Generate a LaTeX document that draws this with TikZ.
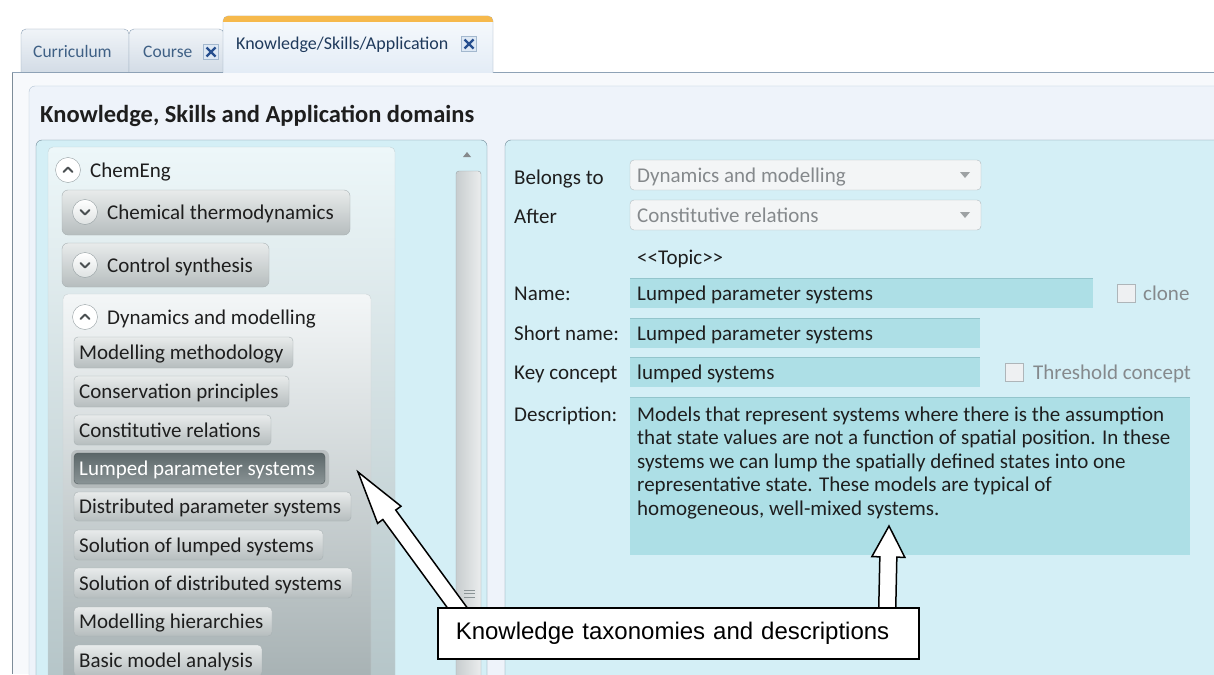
\documentclass[tikz,border=0pt]{standalone}
\usepackage{fontspec}
\setmainfont{Carlito}
\newfontfamily\calloutfont{Liberation Sans}
\usetikzlibrary{calc}

\definecolor{tabedge}{HTML}{8EA2B6}
\definecolor{tabtop}{HTML}{F0F4F8}
\definecolor{tabbot}{HTML}{D3DCE6}
\definecolor{tabtext}{HTML}{3F6085}
\definecolor{acttext}{HTML}{1F3A5C}
\definecolor{acttop}{HTML}{F7FAFD}
\definecolor{actbot}{HTML}{E3ECF6}
\definecolor{orangebar}{HTML}{F6B94C}
\definecolor{xblue}{HTML}{264E8E}
\definecolor{xboxfill}{HTML}{DDE8F4}
\definecolor{xboxedge}{HTML}{A3B8CE}
\definecolor{framegray}{HTML}{7D8C99}
\definecolor{outerbg}{HTML}{F7F9FC}
\definecolor{contentbg}{HTML}{EEF3FA}
\definecolor{contentedge}{HTML}{B4C4D4}
\definecolor{paneledge}{HTML}{6E8795}
\definecolor{panelcyan}{HTML}{D4EFF6}
\definecolor{treetop}{HTML}{EDF7F9}
\definecolor{treebot}{HTML}{B3C3C6}
\definecolor{treeedge}{HTML}{C3D3D7}
\definecolor{grouptop}{HTML}{F3F6F7}
\definecolor{groupbot}{HTML}{A3AEB0}
\definecolor{groupedge}{HTML}{CBD3D5}
\definecolor{btntop}{HTML}{E8EBEB}
\definecolor{btnbot}{HTML}{B6BDBE}
\definecolor{btnedge}{HTML}{A8B1B3}
\definecolor{seltop}{HTML}{5C6769}
\definecolor{selbot}{HTML}{8A9496}
\definecolor{seledge}{HTML}{4E585A}
\definecolor{fieldteal}{HTML}{ADDFE6}
\definecolor{fieldedge}{HTML}{93C5CC}
\definecolor{combofill}{HTML}{F3F5F6}
\definecolor{comboedge}{HTML}{B2B9BD}
\definecolor{graytext}{HTML}{85898C}
\definecolor{darktext}{HTML}{1E1E1E}
\definecolor{chkfill}{HTML}{EEF0F2}
\definecolor{chkedge}{HTML}{AEB5B9}
\definecolor{chevgray}{HTML}{4A4F51}
\definecolor{circedge}{HTML}{949EA1}
\definecolor{thumbedge}{HTML}{9AA4A7}

\tikzset{
  ui/.style={font=\fontsize{21}{25}\selectfont, text=darktext, inner sep=0pt, anchor=base west},
  uigray/.style={ui, text=graytext},
  tabtxt/.style={font=\fontsize{17.5}{21}\selectfont, text=tabtext, inner sep=0pt, anchor=base west},
  tabshape/.style={draw=tabedge, top color=tabtop, bottom color=tabbot, rounded corners=5},
  acttab/.style={draw=tabedge, top color=acttop, bottom color=actbot, rounded corners=5},
  xbox/.style={draw=xboxedge, fill=xboxfill, minimum size=15pt, inner sep=0pt},
  xmark/.style={xblue, line width=2.3pt},
  panel/.style={draw=paneledge, fill=panelcyan, rounded corners=6},
  treebox/.style={draw=treeedge, top color=treetop, bottom color=treebot, rounded corners=5},
  groupbox/.style={draw=groupedge, top color=grouptop, bottom color=groupbot, rounded corners=5},
  btnshape/.style={draw=btnedge, top color=btntop, bottom color=btnbot, rounded corners=4},
  selshape/.style={draw=seledge, top color=seltop, bottom color=selbot, rounded corners=4},
  expander/.style={circle, draw=circedge, minimum size=25pt, inner sep=0pt, top color=white, bottom color=btntop!80!btnbot},
  chev/.style={chevgray, line width=2.1pt, line cap=round, line join=round},
  combo/.style={draw=comboedge, fill=combofill, rounded corners=4},
  field/.style={fill=fieldteal},
  chkbox/.style={draw=chkedge, fill=chkfill, minimum size=18pt, inner sep=0pt},
  calloutbox/.style={draw=black, line width=1.5pt, fill=white, anchor=north west,
     minimum height=51pt, text width=445pt, inner xsep=18pt, inner ysep=0pt, align=left,
     font=\calloutfont\fontsize{24}{28}\selectfont},
  hollow/.style={draw=black, line width=1.5pt, fill=white, line join=miter},
}

\newcommand{\chevronup}[1]{\draw[chev] ($(#1)+(-4.5,2)$) -- ($(#1)+(0,-2.5)$) -- ($(#1)+(4.5,2)$);}
\newcommand{\chevrondown}[1]{\draw[chev] ($(#1)+(-4.5,-2)$) -- ($(#1)+(0,2.5)$) -- ($(#1)+(4.5,-2)$);}
% name, right x, top y, bottom y, text, shape style, text style
\newcommand{\treeitem}[7]{%
  \path[#6] (74,#3) rectangle (#2,#4);
  \node[#7] (#1) at (79,{(#3+#4)/2+7}) {#5};}
% tail, tip, head length, head half width, shaft half width
\newcommand{\hollowarrow}[5]{%
  \path[hollow] (#2)
    -- ($(#2)!#3!(#1)!#4!90:(#2)$)
    -- ($(#2)!#3!(#1)!#5!90:(#2)$)
    -- ($(#1)!#5!90:(#2)$)
    -- ($(#1)!#5!-90:(#2)$)
    -- ($(#2)!#3!(#1)!#5!-90:(#2)$)
    -- ($(#2)!#3!(#1)!#4!-90:(#2)$)
    -- cycle;}

\begin{document}
\begin{tikzpicture}[x=1pt,y=-1pt]
\useasboundingbox (0,0) rectangle (1214,674);
\clip (0,0) rectangle (1214,674);
\fill[white] (0,0) rectangle (1214,674);

% ---------- window frame ----------
\fill[outerbg] (12,72) rectangle (1214,674);
\draw[framegray] (12,72) -- (12,674);
\draw[tabedge] (12,72) -- (1214,72);
\path[draw=contentedge, fill=contentbg, rounded corners=6] (29,86) rectangle (1240,700);

% ---------- tabs ----------
\path[tabshape] (21,72) -- (21,29) -- (129,29) -- (129,72);
\path[tabshape] (129,72) -- (129,29) -- (224,29) -- (224,72);
\path[acttab] (223,73) -- (223,16) -- (493,16) -- (493,73);
\begin{scope}
  \clip[rounded corners=5] (223,73) -- (223,16) -- (493,16) -- (493,73) -- cycle;
  \fill[orangebar] (218,10) rectangle (498,22);
\end{scope}
\node[tabtxt] (tabcur) at (33,58) {Curriculum};
\node[tabtxt] (tabcou) at (143,58) {Course};
\node[xbox] (xcou) at (211,52) {};
\draw[xmark] ($(xcou.center)+(-4.5,-4.5)$) -- ($(xcou.center)+(4.5,4.5)$);
\draw[xmark] ($(xcou.center)+(-4.5,4.5)$) -- ($(xcou.center)+(4.5,-4.5)$);
\node[tabtxt, text=acttext, font=\fontsize{18}{21}\selectfont] (tabksa) at (236,50) {Knowledge/Skills/Application};
\node[xbox] (xksa) at (469,44) {};
\draw[xmark] ($(xksa.center)+(-4.5,-4.5)$) -- ($(xksa.center)+(4.5,4.5)$);
\draw[xmark] ($(xksa.center)+(-4.5,4.5)$) -- ($(xksa.center)+(4.5,-4.5)$);

% ---------- title ----------
\node[font=\fontsize{24.5}{29}\selectfont\bfseries, text=darktext, inner sep=0pt, anchor=base west] (title) at (40,122) {Knowledge, Skills and Application domains};

% ---------- left panel ----------
\path[panel] (36,140) rectangle (487,700);
\path[treebox] (48,147) rectangle (395,700);
% scrollbar
\fill[graytext] (463,157) -- (471,157) -- (467,152) -- cycle;
\path[draw=thumbedge, left color=thumbedge!55, right color=white!80!thumbedge, rounded corners=3] (456,171) rectangle (481,700);
\foreach \gy in {590,593.5,597} \draw[thumbedge!90!black] (464,\gy) -- (475,\gy);

% tree
\node[expander, top color=white, bottom color=white] (exchem) at (68,170) {};
\chevronup{exchem}
\node[ui] (chemeng) at (90,177) {ChemEng};

\path[btnshape, rounded corners=6] (62,190) rectangle (350,235);
\node[expander] (exthermo) at (85,212) {};
\chevrondown{exthermo}
\node[ui] (thermo) at (107,219) {Chemical thermodynamics};

\path[btnshape, rounded corners=6] (62,243) rectangle (269,287);
\node[expander] (excontrol) at (85,265) {};
\chevrondown{excontrol}
\node[ui] (control) at (107,272) {Control synthesis};

\path[groupbox] (63,294) rectangle (371,700);
\node[expander, top color=white, bottom color=white] (exdyn) at (85,317) {};
\chevronup{exdyn}
\node[ui] (dynamics) at (107,324) {Dynamics and modelling};

\treeitem{itmeth}{293}{337}{368}{Modelling methodology}{btnshape}{ui}
\treeitem{itcons}{289}{376}{407}{Conservation principles}{btnshape}{ui}
\treeitem{itconst}{271}{415}{445}{Constitutive relations}{btnshape}{ui}
\fill[black, opacity=0.12, rounded corners=6] (71,450) rectangle (329,488);
\treeitem{itlump}{325}{453}{484}{Lumped parameter systems}{selshape}{ui, text=white}
\treeitem{itdist}{351}{492}{521}{Distributed parameter systems}{btnshape}{ui}
\treeitem{itsollump}{323}{530}{560}{Solution of lumped systems}{btnshape}{ui}
\treeitem{itsoldist}{352}{568}{598}{Solution of distributed systems}{btnshape}{ui}
\treeitem{ithier}{272}{607}{636}{Modelling hierarchies}{btnshape}{ui}
\treeitem{itbasic}{262}{645}{676}{Basic model analysis}{btnshape}{ui}

% ---------- right panel ----------
\path[panel] (505,140) rectangle (1240,700);

\node[ui] (lbelong) at (514,184) {Belongs to};
\path[combo] (630,160) rectangle (981,190);
\node[uigray] (vbelong) at (637,182) {Dynamics and modelling};
\fill[graytext!80] (960,172) -- (970,172) -- (965,178) -- cycle;

\node[ui] (lafter) at (514,223) {After};
\path[combo] (630,200) rectangle (981,230);
\node[uigray] (vafter) at (637,222) {Constitutive relations};
\fill[graytext!80] (960,212) -- (970,212) -- (965,218) -- cycle;

\node[ui] (topic) at (637,264) {<\kern0pt<Topic>\kern0pt>};

\node[ui] (lname) at (514,300) {Name:};
\path[field] (630,278) rectangle (1093,308);
\draw[fieldedge] (630,278.5) -- (1093,278.5);
\node[ui] (vname) at (637,300) {Lumped parameter systems};
\node[chkbox] (chkclone) at (1126,293) {};
\node[uigray] (clone) at (1143,300) {clone};

\node[ui] (lshort) at (514,340) {Short name:};
\path[field] (630,318) rectangle (980,348);
\draw[fieldedge] (630,318.5) -- (980,318.5);
\node[ui] (vshort) at (637,340) {Lumped parameter systems};

\node[ui] (lkey) at (514,379) {Key concept};
\path[field] (630,357) rectangle (980,387);
\draw[fieldedge] (630,357.5) -- (980,357.5);
\node[ui] (vkey) at (637,379) {lumped systems};
\node[chkbox] (chkthr) at (1014,372) {};
\node[uigray] (thresh) at (1033,379) {Threshold concept};

\node[ui] (ldesc) at (514,421) {Description:};
\path[field] (630,397) rectangle (1190,555);
\draw[fieldedge] (630,397.5) -- (1190,397.5);
\node[ui] (d1) at (637,421) {Models that represent systems where there is the assumption};
\node[ui] (d2) at (637,444.5) {that state values are not a function of spatial position. In these};
\node[ui] (d3) at (637,468) {systems we can lump the spatially defined states into one};
\node[ui] (d4) at (637,491.5) {representative state. These models are typical of};
\node[ui] (d5) at (637,515) {homogeneous, well-mixed systems.};

% ---------- callout ----------
\coordinate (calloutnw) at (437,607);
\coordinate (tip1) at (358,472);
\coordinate (tip2) at (889,526);
\coordinate (tail1) at ($(calloutnw)+(28.5,12)$);
\coordinate (tail2) at ($(calloutnw)+(450,12)$);
\hollowarrow{tail1}{tip1}{53pt}{14.5pt}{8pt}
\hollowarrow{tail2}{tip2}{31pt}{16.5pt}{8.5pt}
\node[calloutbox] (callout) at (calloutnw) {Knowledge taxonomies and descriptions};

\end{tikzpicture}
\end{document}
